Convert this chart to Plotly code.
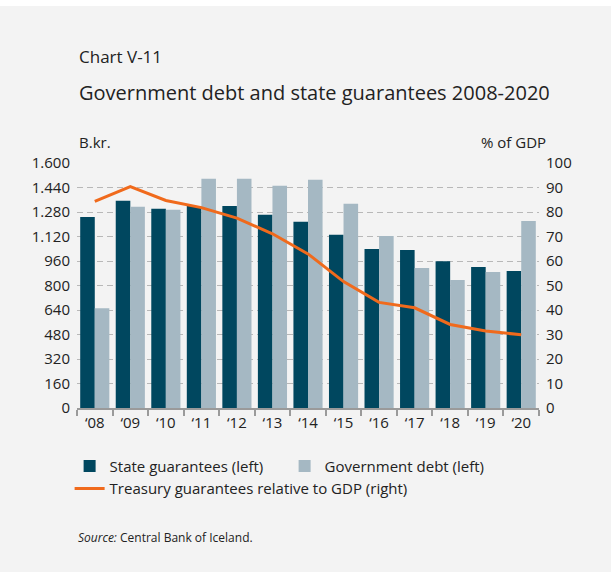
import plotly.graph_objects as go

years = ["‘08", "‘09", "‘10", "‘11", "‘12", "‘13", "‘14", "‘15", "‘16", "‘17", "‘18", "‘19", "‘20"]
state_guarantees = [1248, 1353, 1301, 1320, 1320, 1262, 1216, 1131, 1039, 1032, 958, 921, 895]
government_debt = [651, 1314, 1294, 1497, 1497, 1451, 1491, 1334, 1124, 915, 836, 888, 1222]
treasury_pct_gdp = [84.3, 90.4, 84.7, 81.8, 77.5, 71.1, 62.9, 51.6, 43.1, 40.9, 34.1, 31.4, 29.9]

left_ticks = [0, 160, 320, 480, 640, 800, 960, 1120, 1280, 1440, 1600]
left_tick_text = ["0", "160", "320", "480", "640", "800", "960", "1.120", "1.280", "1.440", "1.600"]
right_ticks = [0, 10, 20, 30, 40, 50, 60, 70, 80, 90, 100]

FONT = "Open Sans"
TXT = "#222222"

fig = go.Figure()
fig.add_trace(go.Bar(x=years, y=state_guarantees, name="State guarantees (left)",
                     marker=dict(color="#00475f", line=dict(width=0))))
fig.add_trace(go.Bar(x=years, y=government_debt, name="Government debt (left)",
                     marker=dict(color="#a5b8c3", line=dict(width=0))))
fig.add_trace(go.Scatter(x=years, y=treasury_pct_gdp, name="Treasury guarantees relative to GDP (right)",
                         mode="lines", line=dict(color="#f06a1c", width=3), yaxis="y2"))

fig.update_layout(
    width=613, height=574,
    margin=dict(l=77, r=74, t=163, b=166),
    paper_bgcolor="white", plot_bgcolor="#f3f3f3",
    font=dict(family=FONT, size=15, color=TXT),
    barmode="group", bargap=0.18, bargroupgap=0,
    xaxis=dict(type="category", range=[-0.5, 12.5], showline=True, linecolor="#9a9a9a", linewidth=1.5,
               ticks="outside", tickson="boundaries", ticklen=6, tickcolor="#9a9a9a", tickwidth=1.5,
               showgrid=False, tickfont=dict(size=15, color=TXT), fixedrange=True),
    yaxis=dict(range=[0, 1600], tickvals=left_ticks, ticktext=left_tick_text, showgrid=True,
               gridcolor="#b8b8b8", griddash="6px,4px", gridwidth=1, zeroline=False, showline=False,
               ticks="", ticklabelstandoff=6, tickfont=dict(size=15, color=TXT)),
    yaxis2=dict(range=[0, 100], tickvals=right_ticks, overlaying="y", side="right", showgrid=False,
                zeroline=False, showline=False, ticks="", ticklabelstandoff=6,
                tickfont=dict(size=15, color=TXT)),
    legend=dict(orientation="h", x=-0.016, xanchor="left", y=-0.17, yanchor="top",
                entrywidth=170, entrywidthmode="pixels", itemwidth=30,
                font=dict(size=15, color=TXT), bgcolor="rgba(0,0,0,0)", tracegroupgap=4),
    shapes=[dict(type="rect", xref="paper", yref="paper", x0=-77/462, x1=1 + 72/462,
                 y0=-164/245, y1=1 + 157/245, fillcolor="#f3f3f3", line=dict(width=0), layer="below")],
    annotations=[
        dict(text="Chart V-11", xref="paper", yref="paper", x=0, y=1 + 106/245, xanchor="left",
             yanchor="middle", showarrow=False, font=dict(size=17, color=TXT)),
        dict(text="Government debt and state guarantees 2008-2020", xref="paper", yref="paper", x=0,
             y=1 + 71/245, xanchor="left", yanchor="middle", showarrow=False, font=dict(size=20, color=TXT)),
        dict(text="B.kr.", xref="paper", yref="paper", x=0, y=1 + 21/245, xanchor="left",
             yanchor="middle", showarrow=False, font=dict(size=15, color=TXT)),
        dict(text="% of GDP", xref="paper", yref="paper", x=1 + 9/462, y=1 + 21/245, xanchor="right",
             yanchor="middle", showarrow=False, font=dict(size=15, color=TXT)),
        dict(text="<i>Source:</i> Central Bank of Iceland.", xref="paper", yref="paper", x=-1/462,
             y=-(537 - 408) / 245, xanchor="left", yanchor="middle", showarrow=False,
             font=dict(size=12, color=TXT)),
    ],
)

fig.write_html("out.html")
